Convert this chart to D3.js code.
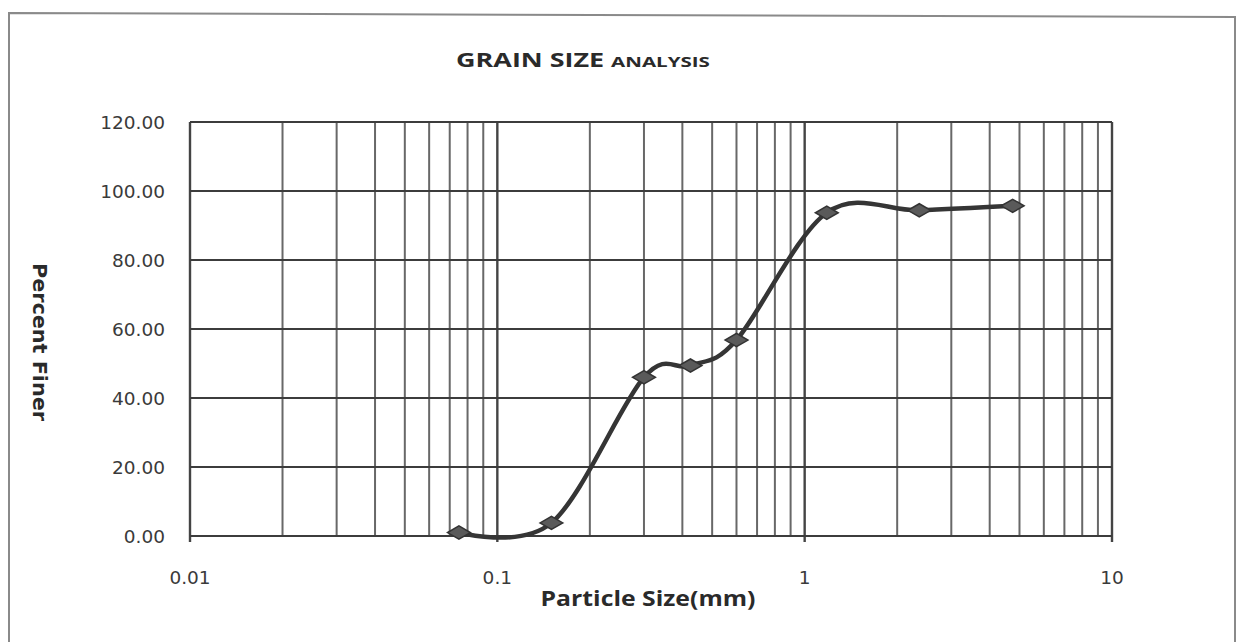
<!DOCTYPE html>
<html>
<head>
<meta charset="utf-8">
<script src="https://cdn.jsdelivr.net/npm/d3@7"></script>
<style>
  html, body { margin: 0; padding: 0; background: #fff; }
  svg { display: block; }
</style>
</head>
<body>
<svg id="chart" width="1244" height="642"></svg>
<script>
// Sieve analysis results
const sieveSizes = [0.075, 0.15, 0.3, 0.425, 0.6, 1.18, 2.36, 4.75];   // mm
const percentFiner = [1.0, 3.8, 46.0, 49.4, 56.8, 93.7, 94.4, 95.7];    // %
const xTickLabels = ["0.01", "0.1", "1", "10"];
const yTickValues = [0, 20, 40, 60, 80, 100, 120];

const svg = d3.select("#chart");
const W = 1244, H = 642;
const plot = { left: 190, right: 1112, top: 122, bottom: 536 };

svg.append("rect").attr("width", W).attr("height", H).attr("fill", "#fff");

// outer chart frame
svg.append("path")
  .attr("d", "M9,660 L9,13 L1235,17 L1235,660")
  .attr("fill", "none").attr("stroke", "#8a8a8a").attr("stroke-width", 2);

const x = d3.scaleLog().domain([0.01, 10]).range([plot.left, plot.right]);
const y = d3.scaleLinear().domain([0, 120]).range([plot.bottom, plot.top]);

// stretch a centred label horizontally so it spans the given width
function fitWidth(sel, cx, cy, width, rotate) {
  const w = sel.node().getComputedTextLength();
  const sx = width / w;
  sel.attr("x", 0).attr("y", 0)
    .attr("transform", `translate(${cx},${cy})${rotate ? ` rotate(${rotate})` : ""} scale(${sx},1)`);
}

// minor vertical grid (2..9 within each decade)
const minor = [];
[0.01, 0.1, 1].forEach(d => { for (let k = 2; k <= 9; k++) minor.push(d * k); });
svg.append("g").selectAll("line").data(minor).join("line")
  .attr("x1", d => x(d)).attr("x2", d => x(d))
  .attr("y1", plot.top).attr("y2", plot.bottom)
  .attr("stroke", "#686868").attr("stroke-width", 2);

// major vertical grid at decades
const decades = [0.01, 0.1, 1, 10];
svg.append("g").selectAll("line").data(decades).join("line")
  .attr("x1", d => x(d)).attr("x2", d => x(d))
  .attr("y1", plot.top).attr("y2", plot.bottom + 6)
  .attr("stroke", "#444").attr("stroke-width", 2.4);

// horizontal grid
svg.append("g").selectAll("line").data(yTickValues).join("line")
  .attr("x1", plot.left).attr("x2", plot.right)
  .attr("y1", d => y(d)).attr("y2", d => y(d))
  .attr("stroke", "#3c3c3c").attr("stroke-width", 2.2);

// y tick labels
svg.append("g").selectAll("text").data(yTickValues).join("text")
  .attr("x", 165).attr("y", d => y(d) + 6.5)
  .attr("text-anchor", "end")
  .attr("font-family", "DejaVu Sans")
  .attr("font-size", 18.5)
  .attr("fill", "#3a3a3a")
  .text(d => d.toFixed(2));

// x tick labels
svg.append("g").selectAll("text").data(decades).join("text")
  .attr("x", d => x(d)).attr("y", 584)
  .attr("text-anchor", "middle")
  .attr("font-family", "DejaVu Sans")
  .attr("font-size", 18.5)
  .attr("fill", "#3a3a3a")
  .text((d, i) => xTickLabels[i]);

// grading curve
const pts = sieveSizes.map((s, i) => [s, percentFiner[i]]);
const line = d3.line()
  .x(d => x(d[0])).y(d => y(d[1]))
  .curve(d3.curveCardinal.tension(0));
svg.append("path").datum(pts)
  .attr("d", line)
  .attr("fill", "none")
  .attr("stroke", "#353535")
  .attr("stroke-width", 4.5)
  .attr("stroke-linejoin", "round");

// diamond markers
const diamond = d3.symbol().type(d3.symbolDiamond).size(150);
svg.append("g").selectAll("path").data(pts).join("path")
  .attr("transform", d => `translate(${x(d[0])},${y(d[1])}) rotate(90)`)
  .attr("d", diamond)
  .attr("fill", "#5a5a5a")
  .attr("stroke", "#333")
  .attr("stroke-width", 1.5);

// title
const title = svg.append("text")
  .attr("text-anchor", "middle")
  .attr("font-family", "Open Sans, sans-serif")
  .attr("font-weight", "bold")
  .attr("fill", "#2a2a2a");
title.append("tspan").attr("font-size", 19).text("GRAIN SIZE ");
title.append("tspan").attr("font-size", 14.5).text("ANALYSIS");
fitWidth(title, 583, 67, 254);

// axis titles
const xTitle = svg.append("text")
  .attr("text-anchor", "middle")
  .attr("font-family", "Open Sans, sans-serif")
  .attr("font-weight", "bold")
  .attr("font-size", 21)
  .attr("fill", "#2a2a2a")
  .text("Particle Size(mm)");
fitWidth(xTitle, 648, 606, 215);

const yTitle = svg.append("text")
  .attr("text-anchor", "middle")
  .attr("font-family", "DejaVu Sans")
  .attr("font-weight", "bold")
  .attr("font-size", 19)
  .attr("fill", "#2a2a2a")
  .text("Percent Finer");
fitWidth(yTitle, 33, 342, 158, 90);
</script>
</body>
</html>
